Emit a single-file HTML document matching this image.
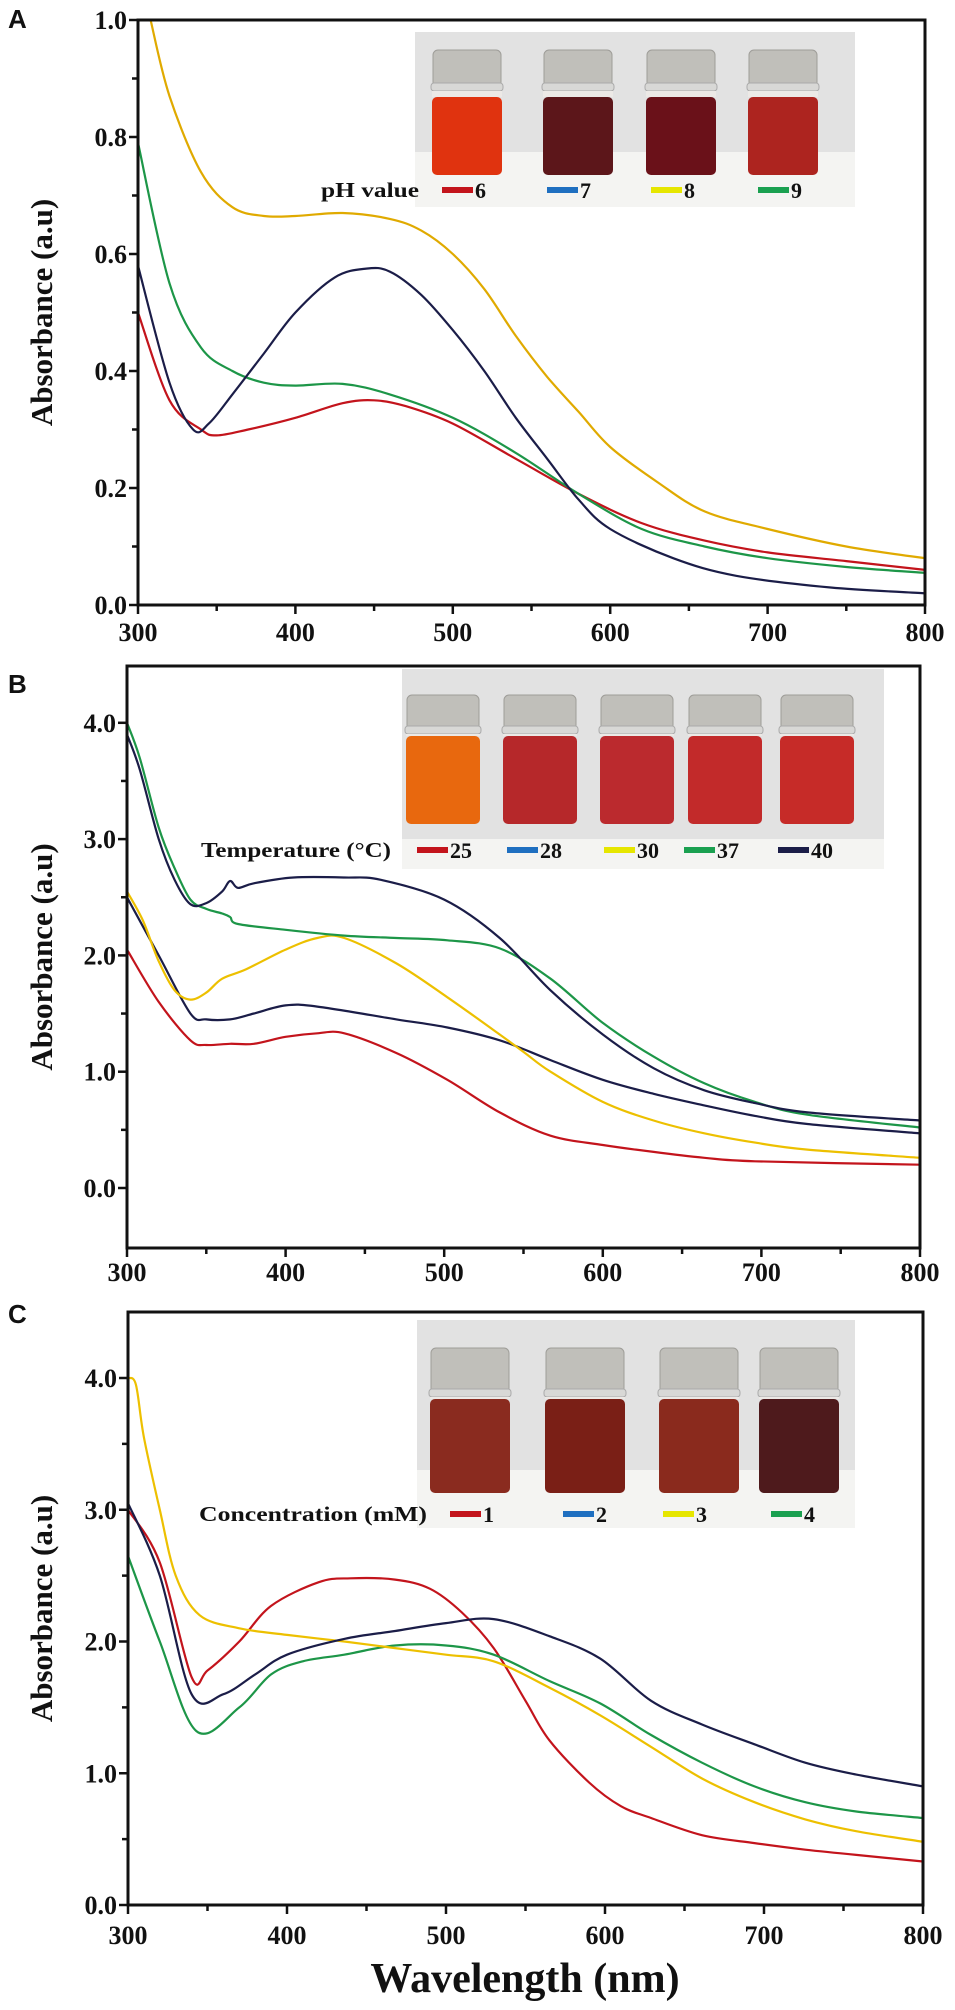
<!DOCTYPE html>
<html><head><meta charset="utf-8">
<style>
html,body{margin:0;padding:0;background:#fff;}
svg{display:block;}
text{font-family:"Liberation Serif",serif;font-weight:bold;fill:#111;}
</style></head>
<body>
<svg id="fig" width="955" height="2010" viewBox="0 0 955 2010" xmlns="http://www.w3.org/2000/svg"></svg>
<script>
// ---------- data ----------
const xTicks = [300, 400, 500, 600, 700, 800];
const yTicksA = [0.0, 0.2, 0.4, 0.6, 0.8, 1.0];
const yTicksB = [0.0, 1.0, 2.0, 3.0, 4.0];
const yTicksC = [0.0, 1.0, 2.0, 3.0, 4.0];

// Panel A (pH)
const aRedX = [300,320,340,350,370,400,430,450,470,500,540,580,620,660,700,750,800];
const aRedY = [0.50,0.35,0.30,0.29,0.30,0.32,0.345,0.35,0.34,0.31,0.25,0.19,0.14,0.11,0.09,0.075,0.06];
const aNavyX = [300,320,335,345,360,380,400,425,445,460,480,500,520,540,560,580,600,640,680,740,800];
const aNavyY = [0.58,0.38,0.30,0.31,0.36,0.43,0.50,0.56,0.575,0.57,0.53,0.47,0.40,0.32,0.25,0.18,0.13,0.08,0.05,0.03,0.02];
const aYellowX = [308,320,340,360,380,400,430,460,480,500,520,540,560,580,600,630,660,700,750,800];
const aYellowY = [1.0,0.87,0.74,0.68,0.665,0.665,0.67,0.66,0.64,0.60,0.54,0.46,0.39,0.33,0.27,0.21,0.16,0.13,0.10,0.08];
const aGreenX = [300,320,340,360,380,400,430,460,500,540,580,620,660,700,750,800];
const aGreenY = [0.79,0.55,0.44,0.40,0.38,0.375,0.378,0.36,0.32,0.26,0.19,0.13,0.10,0.08,0.065,0.055];

// Panel B (temperature)
const bRedX = [300,320,340,350,365,380,400,420,437,470,502,535,567,600,632,664,696,800];
const bRedY = [2.05,1.6,1.27,1.23,1.24,1.24,1.30,1.33,1.33,1.16,0.93,0.65,0.45,0.37,0.31,0.26,0.23,0.20];
const bNavyLowX = [300,320,340,350,365,380,400,420,470,502,535,567,600,632,664,696,729,800];
const bNavyLowY = [2.5,2.0,1.5,1.45,1.45,1.50,1.57,1.56,1.45,1.38,1.27,1.10,0.93,0.81,0.71,0.62,0.55,0.47];
const bYellowX = [300,310,320,330,340,350,360,375,400,420,437,470,502,535,551,567,600,632,664,696,729,800];
const bYellowY = [2.55,2.3,1.95,1.7,1.62,1.68,1.80,1.88,2.05,2.15,2.15,1.93,1.64,1.32,1.16,1.0,0.74,0.58,0.47,0.39,0.33,0.26];
const bGreenX = [300,308,320,330,340,350,360,365,370,400,437,470,502,535,567,600,632,664,696,729,800];
const bGreenY = [4.0,3.7,3.1,2.75,2.48,2.40,2.36,2.33,2.27,2.22,2.17,2.15,2.13,2.06,1.80,1.42,1.13,0.90,0.74,0.63,0.52];
const bNavyHighX = [300,308,320,330,340,350,360,365,370,380,405,437,460,500,535,567,600,632,664,696,729,800];
const bNavyHighY = [3.9,3.6,3.0,2.65,2.44,2.45,2.55,2.64,2.58,2.62,2.67,2.67,2.65,2.48,2.15,1.70,1.32,1.03,0.84,0.73,0.65,0.58];

// Panel C (concentration)
const cRedX = [300,320,340,350,370,390,420,440,468,490,510,530,550,565,590,610,629,661,694,726,758,800];
const cRedY = [3.0,2.6,1.73,1.78,2.0,2.27,2.45,2.48,2.47,2.40,2.22,1.95,1.55,1.25,0.93,0.75,0.66,0.53,0.47,0.42,0.38,0.33];
const cNavyX = [300,320,340,360,380,400,436,468,500,530,565,597,629,661,694,726,758,800];
const cNavyY = [3.05,2.5,1.6,1.6,1.75,1.9,2.02,2.08,2.14,2.17,2.04,1.87,1.55,1.37,1.22,1.08,0.99,0.90];
const cYellowX = [300,305,310,320,330,345,370,400,436,468,500,530,565,597,629,661,694,726,758,800];
const cYellowY = [4.0,3.95,3.55,3.0,2.5,2.2,2.1,2.05,2.0,1.95,1.9,1.85,1.65,1.44,1.20,0.96,0.78,0.65,0.56,0.48];
const cGreenX = [300,320,343,370,390,410,436,468,500,530,565,597,629,661,694,726,758,800];
const cGreenY = [2.65,2.0,1.32,1.5,1.75,1.85,1.9,1.97,1.97,1.90,1.70,1.53,1.29,1.08,0.90,0.78,0.71,0.66];

const legendA = ["6","7","8","9"];
const legendB = ["25","28","30","37","40"];
const legendC = ["1","2","3","4"];

// ---------- helpers ----------
const NS = "http://www.w3.org/2000/svg";
const svg = document.getElementById('fig');
function mk(tag, attrs, parent){
  const e = document.createElementNS(NS, tag);
  for (const k in attrs) e.setAttribute(k, attrs[k]);
  (parent||svg).appendChild(e);
  return e;
}
function smoothPath(pts){
  let d = "M" + pts[0][0].toFixed(1) + "," + pts[0][1].toFixed(1);
  for (let i=0;i<pts.length-1;i++){
    const p0 = pts[Math.max(0,i-1)], p1 = pts[i], p2 = pts[i+1], p3 = pts[Math.min(pts.length-1,i+2)];
    const c1x = p1[0]+(p2[0]-p0[0])/6, c1y = p1[1]+(p2[1]-p0[1])/6;
    const c2x = p2[0]-(p3[0]-p1[0])/6, c2y = p2[1]-(p3[1]-p1[1])/6;
    d += " C"+c1x.toFixed(1)+","+c1y.toFixed(1)+" "+c2x.toFixed(1)+","+c2y.toFixed(1)+" "+p2[0].toFixed(1)+","+p2[1].toFixed(1);
  }
  return d;
}

const COL = {red:"#c3141c", navy:"#1b1d48", yellow:"#edc000", yellowA:"#e0aa00", green:"#1d9648", blue:"#1f6fc0"};

function panel(cfg){
  const g = mk('g', {});
  
  
  const sx = v => cfg.x0 + (v-300)/(800-300)*(cfg.x1-cfg.x0);
  const sy = v => cfg.yZero - v*cfg.yUnit;

  // inset photo
  const ins = mk('g', {}, g);
  
  
  mk('rect', {x:cfg.inset.x, y:cfg.inset.y, width:cfg.inset.w, height:cfg.inset.h, fill:"#f4f4f2"}, ins);
  mk('rect', {x:cfg.inset.x, y:cfg.inset.y, width:cfg.inset.w, height:cfg.inset.bgH, fill:"#e2e2e2"}, ins);
  cfg.vials.forEach((c,i)=>{
    const w = cfg.vialW, cx = cfg.vialCx[i];
    const vg = mk('g', {}, ins);
    
    
    mk('rect', {x:cx-w/2+2, y:cfg.capTop+2, width:w-4, height:cfg.capBot-cfg.capTop, rx:5, fill:"#c0bfba", stroke:"#9e9d98", "stroke-width":1}, vg);
    mk('rect', {x:cx-w/2, y:cfg.capBot-4, width:w, height:8, rx:3, fill:"#d8d8d6", stroke:"#aaa", "stroke-width":1}, vg);
    mk('rect', {x:cx-w/2+1, y:cfg.capBot+4, width:w-2, height:cfg.liqTop-cfg.capBot-4, fill:"#ece9e6"}, vg);
    mk('rect', {x:cx-w/2+1, y:cfg.liqTop, width:w-2, height:cfg.liqBot-cfg.liqTop, rx:5, fill:c}, vg);
  });

  // legend
  const lg = mk('g', {}, g);
  
  
  const lt = mk('text', {x:cfg.legend.tx, y:cfg.legend.y+7, "font-size":cfg.legend.fs, "textLength":cfg.legend.tw, "lengthAdjust":"spacingAndGlyphs"}, lg);
  lt.textContent = cfg.legend.title;
  
  
  cfg.legend.labels.forEach((lab,i)=>{
    const sw = cfg.legend.sw[i];
    const r = mk('rect', {x:sw, y:cfg.legend.y-3, width:31, height:6, fill:cfg.legend.cols[i]}, lg);
    
    
    const t = mk('text', {x:sw+33, y:cfg.legend.y+8, "font-size":cfg.legend.fs+1}, lg);
    t.textContent = lab;
    
    
  });

  // series
  cfg.series.forEach(s=>{
    const pts = s.x.map((v,i)=>[sx(v), sy(s.y[i])]);
    const p = mk('path', {d:smoothPath(pts), fill:"none", stroke:s.c, "stroke-width":2.2, "stroke-linejoin":"round"}, g);
    
    
  });

  // frame
  const fr = mk('rect', {x:cfg.x0, y:cfg.top, width:cfg.x1-cfg.x0, height:cfg.bottom-cfg.top, fill:"none", stroke:"#111", "stroke-width":3}, g);
  
  

  // y ticks
  const yax = mk('g', {}, g);
  
  
  const step = cfg.yTicks[1]-cfg.yTicks[0];
  cfg.yTicks.forEach(v=>{
    const y = sy(v);
    mk('line', {x1:cfg.x0-9, x2:cfg.x0, y1:y, y2:y, stroke:"#111", "stroke-width":2.5}, yax);
    const t = mk('text', {x:cfg.x0-11, y:y+9, "font-size":26, "text-anchor":"end"}, yax);
    t.textContent = v.toFixed(1);
    
    
    const m = v + step/2;
    if (sy(m) > cfg.top+3) mk('line', {x1:cfg.x0-6, x2:cfg.x0, y1:sy(m), y2:sy(m), stroke:"#111", "stroke-width":2.5}, yax);
  });
  if (cfg.minorBelow && sy(-step/2) < cfg.bottom-3) mk('line', {x1:cfg.x0-6, x2:cfg.x0, y1:sy(-step/2), y2:sy(-step/2), stroke:"#111", "stroke-width":2.5}, yax);

  // x ticks
  const xax = mk('g', {}, g);
  
  
  xTicks.forEach((v,i)=>{
    const x = sx(v);
    mk('line', {x1:x, x2:x, y1:cfg.bottom, y2:cfg.bottom+9, stroke:"#111", "stroke-width":2.5}, xax);
    if (i < xTicks.length-1) mk('line', {x1:sx(v+50), x2:sx(v+50), y1:cfg.bottom, y2:cfg.bottom+6, stroke:"#111", "stroke-width":2.5}, xax);
    const t = mk('text', {x:x, y:cfg.xLabelY+9, "font-size":26, "text-anchor":"middle"}, xax);
    t.textContent = v;
    
    
  });

  // y title
  const cy = (cfg.top+cfg.bottom)/2;
  const yt = mk('text', {x:0, y:0, "font-size":31, "text-anchor":"middle", transform:"translate(52,"+cy+") rotate(-90)"}, g);
  yt.textContent = "Absorbance (a.u)";
  
  

  // panel letter
  const pl = mk('text', {x:8, y:cfg.letterY+10, "font-size":26, style:"font-family:'Liberation Sans',sans-serif"}, g);
  pl.textContent = cfg.letter;
  
  
}

panel({
  name:"panel-a-ph", letter:"A", letterY:18,
  x0:138, x1:925, top:20, bottom:605, yZero:605, yUnit:585, yTicks:yTicksA, xLabelY:632,
  inset:{x:415, y:32, w:440, h:175, bgH:120},
  vials:["#e0330f","#5c161a","#6a1119","#ad241f"], vialCx:[467,578,681,783], vialW:72,
  capTop:48, capBot:87, liqTop:97, liqBot:175,
  legend:{title:"pH value", tx:321, tw:98, y:190, fs:21, labels:legendA, sw:[442,547,651,758], cols:[COL.red,COL.blue,"#e6e600","#1aa050"]},
  series:[
    {n:"line-ph-6", x:aRedX, y:aRedY, c:COL.red},
    {n:"line-ph-9", x:aGreenX, y:aGreenY, c:COL.green},
    {n:"line-ph-8", x:aYellowX, y:aYellowY, c:COL.yellowA},
    {n:"line-ph-7", x:aNavyX, y:aNavyY, c:COL.navy}
  ]
});

panel({
  name:"panel-b-temperature", letter:"B", letterY:683, minorBelow:true,
  x0:127, x1:920, top:666, bottom:1248, yZero:1188, yUnit:116.3, yTicks:yTicksB, xLabelY:1272,
  inset:{x:402, y:669, w:482, h:200, bgH:170},
  vials:["#e8680e","#b6282a","#bb2a2e","#c22a2a","#c62b28"], vialCx:[443,540,637,725,817], vialW:76,
  capTop:693, capBot:730, liqTop:736, liqBot:824,
  legend:{title:"Temperature (°C)", tx:201, tw:190, y:850, fs:21, labels:legendB, sw:[417,507,604,684,778], cols:[COL.red,COL.blue,"#e6e600","#1aa050",COL.navy]},
  series:[
    {n:"line-temp-25", x:bRedX, y:bRedY, c:COL.red},
    {n:"line-temp-28", x:bNavyLowX, y:bNavyLowY, c:COL.navy},
    {n:"line-temp-30", x:bYellowX, y:bYellowY, c:COL.yellow},
    {n:"line-temp-37", x:bGreenX, y:bGreenY, c:COL.green},
    {n:"line-temp-40", x:bNavyHighX, y:bNavyHighY, c:COL.navy}
  ]
});

panel({
  name:"panel-c-concentration", letter:"C", letterY:1313,
  x0:128, x1:923, top:1312, bottom:1905, yZero:1905, yUnit:131.75, yTicks:yTicksC, xLabelY:1935,
  inset:{x:417, y:1320, w:438, h:208, bgH:150},
  vials:["#8a2b1f","#7a1f16","#8a2a1d","#4e1a1c"], vialCx:[470,585,699,799], vialW:82,
  capTop:1346, capBot:1393, liqTop:1399, liqBot:1493,
  legend:{title:"Concentration (mM)", tx:199, tw:228, y:1514, fs:21, labels:legendC, sw:[450,563,663,771], cols:[COL.red,COL.blue,"#e6e600","#1aa050"]},
  series:[
    {n:"line-conc-1", x:cRedX, y:cRedY, c:COL.red},
    {n:"line-conc-4", x:cGreenX, y:cGreenY, c:COL.green},
    {n:"line-conc-3", x:cYellowX, y:cYellowY, c:COL.yellow},
    {n:"line-conc-2", x:cNavyX, y:cNavyY, c:COL.navy}
  ]
});

const xt = mk('text', {x:525, y:1992, "font-size":42, "text-anchor":"middle"});
xt.textContent = "Wavelength (nm)";


</script>
</body></html>
